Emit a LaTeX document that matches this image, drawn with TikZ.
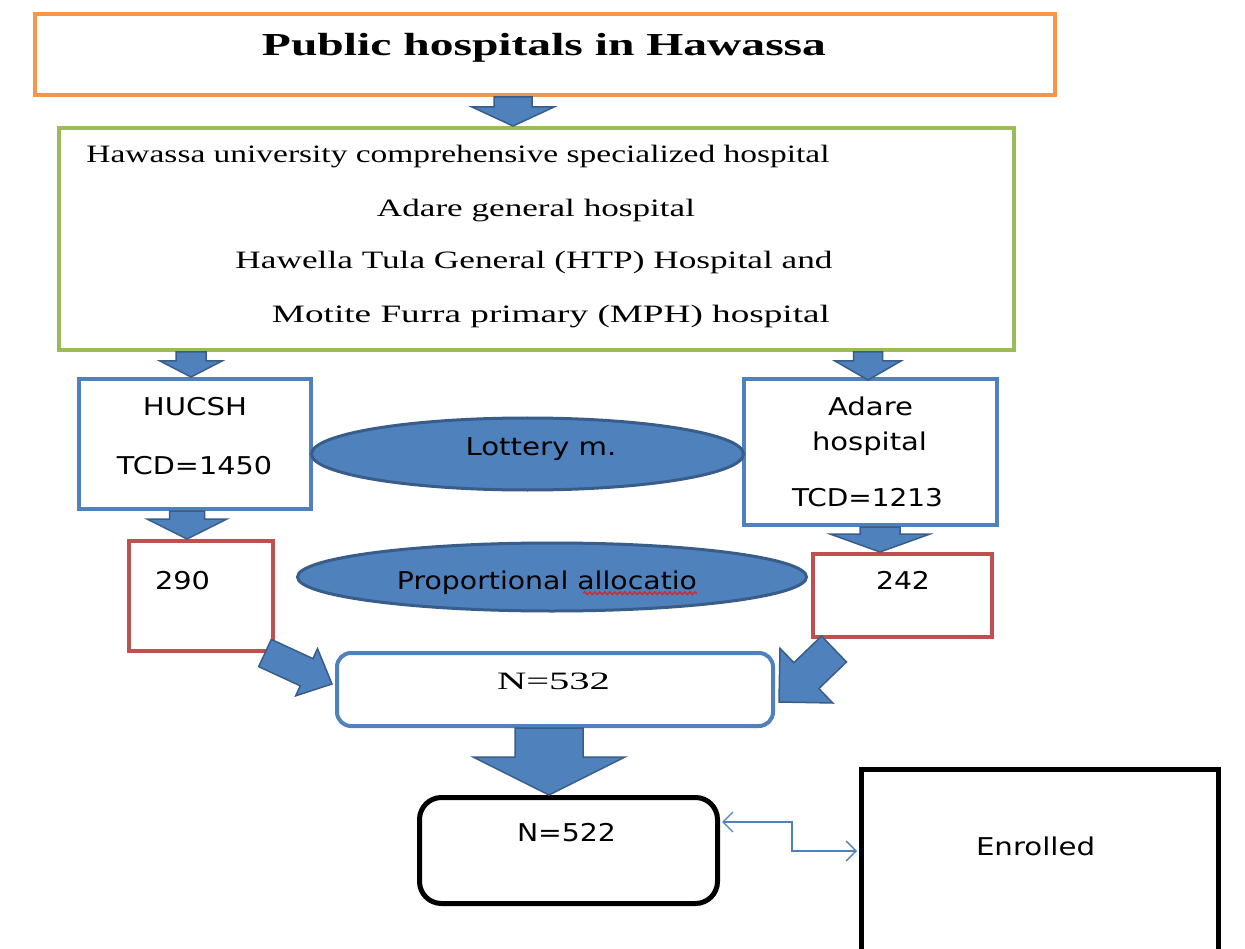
\documentclass[tikz,border=0pt]{standalone}
\usepackage{fontspec}
\usepackage{graphicx}
\setmainfont{Liberation Serif}
\newfontfamily\sansf{DejaVu Sans}
\usetikzlibrary{calc,shapes.geometric,arrows.meta,decorations.pathmorphing}
\definecolor{orng}{HTML}{F79646}
\definecolor{grn}{HTML}{9BBB59}
\definecolor{blu}{HTML}{4F81BD}
\definecolor{dkblu}{HTML}{385D8A}
\definecolor{rd}{HTML}{C0504D}
\definecolor{squig}{HTML}{E02020}
\newcommand\fw[2]{\resizebox{#1pt}{\height}{#2}}
\newcommand\barrow[5]{%
  \path ($(#2)!#5!(#1)$) coordinate (bh);
  \draw[blockarr] ($(#1)!#3!90:(#2)$) -- ($(bh)!#3!90:(#2)$) -- ($(bh)!#4!90:(#2)$) -- (#2)
    -- ($(bh)!#4!-90:(#2)$) -- ($(bh)!#3!-90:(#2)$) -- ($(#1)!#3!-90:(#2)$) -- cycle;}
\tikzset{
  box/.style={draw, line width=4pt, inner sep=0pt},
  blockarr/.style={fill=blu, draw=dkblu, line width=1.5pt, line join=miter},
  oval/.style={ellipse, fill=blu, draw=dkblu, line width=3pt, inner sep=0pt},
  stxt/.style={inner sep=0pt, font=\sansf\fontsize{24.5}{28}\selectfont, text height=18pt, text depth=0pt},
  rtxt/.style={inner sep=0pt, font=\fontsize{25}{28}\selectfont, text height=16.5pt, text depth=0pt},
  ttxt/.style={inner sep=0pt, font=\bfseries\fontsize{32}{36}\selectfont, text height=21.2pt, text depth=0pt},
  link/.style={blu, line width=1.3pt, {Straight Barb[length=10pt,width=20pt]}-{Straight Barb[length=10pt,width=20pt]}}
}
\begin{document}
\begin{tikzpicture}[x=1pt,y=-1pt]
\useasboundingbox[fill=white] (0,0) rectangle (1245,949);
% boxes
\node[box, draw=orng, minimum width=1020pt, minimum height=81pt] (title) at (545,54.5) {};
\node[box, draw=grn, minimum width=955pt, minimum height=222pt] (green) at (536.5,239) {};
\node[box, draw=blu, minimum width=232pt, minimum height=130pt] (hucsh) at (195,444) {};
\node[box, draw=blu, minimum width=253pt, minimum height=146pt] (adare) at (870.5,452) {};
\node[oval, minimum width=432pt, minimum height=72pt] (lottery) at (527.5,454) {};
\node[box, draw=rd, minimum width=144pt, minimum height=110pt] (r290) at (201,596) {};
\node[box, draw=rd, minimum width=179pt, minimum height=83pt] (r242) at (902.5,595.5) {};
\node[oval, minimum width=509pt, minimum height=68pt] (prop) at (552,577) {};
\node[box, draw=blu, rounded corners=14pt, minimum width=436pt, minimum height=73pt] (n532) at (555,689.5) {};
\node[box, draw=black, line width=5pt, rounded corners=22pt, minimum width=298pt, minimum height=106pt] (n522) at (568.5,850.5) {};
\node[box, draw=black, line width=5pt, minimum width=357pt, minimum height=186pt] (enr) at (1040,862) {};
% texts
\node[ttxt] (tt) at (544,45) {\fw{564}{Public hospitals in Hawassa}};
\node[rtxt] (l1) at (458,154) {\fw{743}{Hawassa university comprehensive specialized hospital}};
\node[rtxt] (l2) at (536,208) {\fw{318}{Adare general hospital}};
\node[rtxt] (l3) at (534,260) {\fw{597}{Hawella Tula General (HTP) Hospital and}};
\node[rtxt] (l4) at (551,314) {\fw{558}{Motite Furra primary (MPH) hospital}};
\node[stxt] (t1) at (195,407) {\fw{104}{HUCSH}};
\node[stxt] (t2) at (194.5,465) {\fw{155}{TCD=1450}};
\node[stxt] (t3) at (870.5,406) {\fw{85}{Adare}};
\node[stxt] (t4) at (869.5,441) {\fw{115}{hospital}};
\node[stxt] (t5) at (867.5,497) {\fw{151}{TCD=1213}};
\node[stxt] (t6) at (541,447) {\fw{151}{Lottery m.}};
\node[stxt] (t7) at (182.5,580) {\fw{55}{290}};
\node[stxt] (t8) at (903,580) {\fw{54}{242}};
\node[stxt] (ptext) at (547,580) {\fw{300}{Proportional allocatio}};
\node[rtxt] (t9) at (553.5,681) {\fw{113}{N=532}};
\node[stxt] (t10) at (566.5,832) {\fw{99}{N=522}};
\node[stxt] (t11) at (1035.5,846) {\fw{119}{Enrolled}};
\draw[squig, line width=1.2pt, decorate, decoration={snake, amplitude=1.5pt, segment length=5pt}]
  ([xshift=-114pt,yshift=-4pt]ptext.south east) -- ([yshift=-4pt]ptext.south east);
% block arrows
\barrow{[xshift=-32pt]title.south}{[xshift=-23.5pt]green.north}{19pt}{41pt}{19pt}
\barrow{[xshift=-345.5pt]green.south}{[xshift=-4pt]hucsh.north}{15pt}{31pt}{16pt}
\barrow{[xshift=331.5pt]green.south}{[xshift=-2.5pt,yshift=-3pt]adare.north}{14.5pt}{33pt}{19pt}
\barrow{[xshift=-8pt]hucsh.south}{[xshift=-14pt]r290.north}{17.5pt}{40pt}{20pt}
\barrow{[xshift=9.5pt]adare.south}{[xshift=-22.5pt]r242.north}{20pt}{50pt}{18pt}
\barrow{[xshift=-10pt,yshift=0pt]r290.south east}{[xshift=-3pt,yshift=5.5pt]n532.west}{15pt}{26pt}{28pt}
\barrow{[xshift=23pt,yshift=-10pt]r242.south west}{[xshift=4pt,yshift=-12.5pt]n532.east}{18pt}{38pt}{38pt}
\barrow{[xshift=-6pt]n532.south}{[xshift=-19.5pt]n522.north}{34pt}{76pt}{38pt}
% connector
\draw[link] ([xshift=2pt,yshift=28.5pt]n522.east) -- ++(70,0) |- ([xshift=-2pt,yshift=11pt]enr.west);
\end{tikzpicture}
\end{document}
